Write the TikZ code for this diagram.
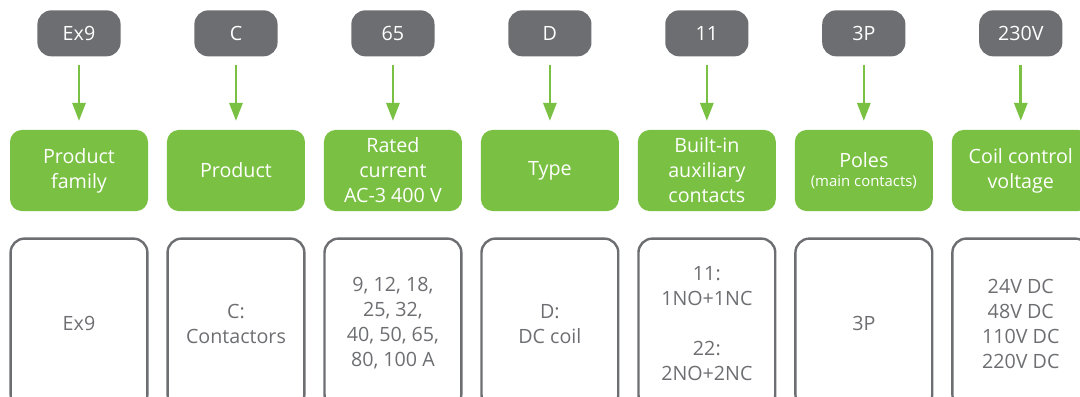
\documentclass[tikz,border=0pt]{standalone}
\usepackage{fontspec}
\setmainfont{Open Sans}
\usepackage{tikz}
\usetikzlibrary{positioning, arrows.meta}
\definecolor{ExGreen}{HTML}{7AC143}
\definecolor{ExGrey}{HTML}{6D6E71}

\begin{document}
\begin{tikzpicture}[
    >={Triangle[length=0.45cm, width=0.33cm]},
    node distance=0.46cm,
    every edge/.style={draw=ExGreen, line width=0.065cm, shorten <=0.2cm, shorten >=0.22cm},
    codebox/.style={fill=ExGrey, rounded corners=0.35cm, minimum width=2.08cm, minimum height=1.15cm, inner sep=0pt, text=white, font=\fontsize{14}{17.8}\selectfont},
    fieldbox/.style={fill=ExGreen, rounded corners=0.3cm, minimum width=3.45cm, minimum height=2.03cm, inner sep=0pt, align=center, text=white, font=\fontsize{14}{17.8}\selectfont},
    valuebox/.style={draw=ExGrey, line width=0.06cm, rounded corners=0.35cm, minimum width=3.42cm, minimum height=4.25cm, inner sep=0pt, align=center, text=ExGrey, font=\fontsize{14}{17.8}\selectfont}]

    \useasboundingbox (0,0) rectangle (27,-9.9);

    % green row
    \node at (1.975,-4.2625) [fieldbox] (family) {Product\\family};
    \node [fieldbox, right=of family] (product) {Product};
    \node [fieldbox, right=of product] (current) {Rated\\current\\AC-3 400 V};
    \node [fieldbox, right=of current] (type) {Type};
    \node [fieldbox, right=of type] (aux) {Built-in\\auxiliary\\contacts};
    \node [fieldbox, right=of aux] (poles) {Poles\\[-4pt]{\fontsize{10.6}{12}\selectfont (main contacts)}};
    \node [fieldbox, right=of poles] (coil) {Coil control\\voltage};

    % codes
    \node [codebox, above=1.825cm of family] (cEx) {Ex9};
    \node [codebox, above=1.825cm of product] (cC) {C};
    \node [codebox, above=1.825cm of current] (c65) {65};
    \node [codebox, above=1.825cm of type] (cD) {D};
    \node [codebox, above=1.825cm of aux] (c11) {11};
    \node [codebox, above=1.825cm of poles] (c3P) {3P};
    \node [codebox, above=1.825cm of coil] (c230) {230V};

    % values
    \node [valuebox, below=0.65cm of family] (vEx) {Ex9};
    \node [valuebox, below=0.65cm of product] (vC) {C:\\Contactors};
    \node [valuebox, below=0.65cm of current] (v65) {9, 12, 18,\\25, 32,\\40, 50, 65,\\80, 100 A};
    \node [valuebox, below=0.65cm of type] (vD) {D:\\DC coil};
    \node [valuebox, below=0.65cm of aux] (v11) {11:\\1NO+1NC\\[17.8pt]22:\\2NO+2NC};
    \node [valuebox, below=0.65cm of poles] (v3P) {3P};
    \node [valuebox, below=0.65cm of coil] (v230) {24V DC\\48V DC\\110V DC\\220V DC};

    \path (cEx) edge [->] (family);
    \path (cC) edge [->] (product);
    \path (c65) edge [->] (current);
    \path (cD) edge [->] (type);
    \path (c11) edge [->] (aux);
    \path (c3P) edge [->] (poles);
    \path (c230) edge [->] (coil);

\end{tikzpicture}
\end{document}
